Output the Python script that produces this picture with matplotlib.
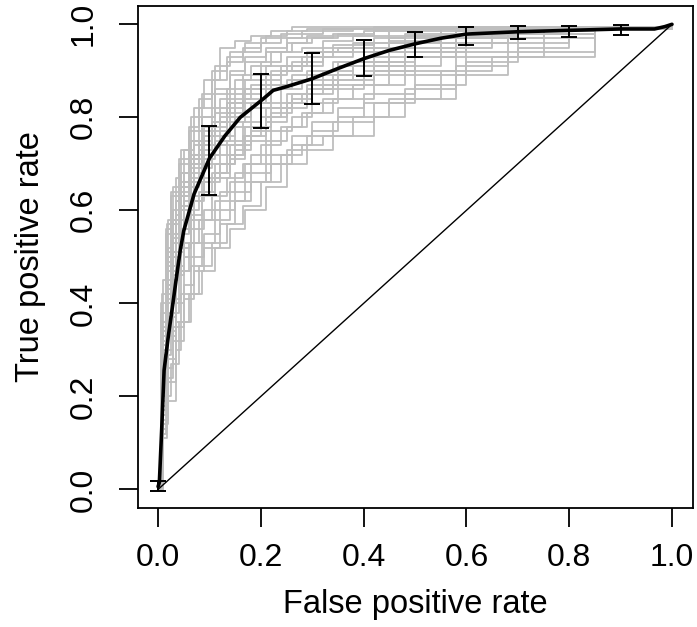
import numpy as np
import matplotlib
matplotlib.use('Agg')
import matplotlib.pyplot as plt

plt.rcParams['font.family'] = ['Liberation Sans', 'DejaVu Sans']

# FPR grids used by the individual (grey) ROC curves
grid_a = [0, .01, .02, .03, .05, .07, .09, .12, .15, .18, .22, .26, .30, .35, .40, .50, .60, .70, .80, 1.0]
grid_b = [0, .005, .015, .025, .04, .06, .08, .105, .135, .165, .20, .24, .28, .32, .38, .45, .55, .65, .75, 1.0]
grid_c = [0, .008, .018, .035, .045, .065, .085, .11, .14, .17, .21, .25, .29, .34, .42, .48, .58, .68, .85, 1.0]

# TPR of each resampled ROC curve
grey_tpr = [
    [0, .45, .58, .65, .73, .82, .88, .95, .965, .975, .985, .995, .995, .995, .995, .995, .995, .995, .995, 1],
    [0, .12, .20, .27, .36, .42, .48, .53, .57, .61, .66, .72, .74, .76, .80, .84, .90, .93, .99, 1],
    [0, .30, .48, .58, .66, .72, .76, .80, .84, .87, .90, .92, .94, .95, .96, .97, .985, .99, .995, 1],
    [0, .20, .35, .45, .55, .60, .64, .68, .72, .76, .80, .83, .85, .88, .91, .94, .97, .98, .99, 1],
    [0, .35, .52, .60, .68, .74, .78, .84, .88, .91, .94, .96, .97, .98, .985, .99, .995, .995, .995, 1],
    [0, .25, .40, .50, .60, .65, .69, .72, .75, .79, .83, .86, .88, .90, .92, .95, .97, .985, .99, 1],
    [0, .18, .30, .40, .50, .56, .60, .64, .68, .72, .77, .80, .83, .86, .89, .93, .96, .98, .99, 1],
    [0, .28, .45, .55, .64, .70, .73, .77, .81, .85, .88, .90, .91, .93, .95, .965, .98, .99, .995, 1],
    [0, .15, .26, .35, .44, .50, .55, .60, .64, .68, .72, .76, .79, .82, .85, .89, .93, .96, .99, 1],
    [0, .38, .55, .63, .70, .77, .82, .88, .92, .94, .96, .97, .98, .985, .99, .99, .995, .995, .995, 1],
    [0, .22, .38, .48, .58, .63, .67, .70, .74, .78, .82, .85, .87, .89, .92, .95, .975, .985, .99, 1],
    [0, .32, .50, .58, .66, .71, .75, .79, .83, .86, .89, .91, .93, .95, .96, .975, .99, .99, .995, 1],
    [0, .24, .41, .51, .61, .66, .70, .74, .78, .82, .86, .88, .89, .91, .93, .96, .98, .99, .99, 1],
    [0, .17, .29, .38, .47, .53, .58, .63, .67, .70, .74, .78, .81, .84, .87, .91, .95, .97, .99, 1],
    [0, .27, .44, .53, .62, .68, .72, .76, .80, .83, .87, .89, .90, .92, .94, .96, .98, .99, .995, 1],
    [0, .40, .56, .64, .71, .78, .84, .90, .93, .95, .97, .98, .985, .99, .99, .995, .995, .995, .995, 1],
    [0, .21, .36, .46, .56, .62, .66, .70, .73, .77, .81, .84, .86, .88, .90, .94, .97, .98, .99, 1],
    [0, .26, .43, .54, .63, .69, .74, .78, .82, .84, .87, .90, .92, .94, .95, .97, .985, .99, .995, 1],
    [0, .14, .24, .32, .41, .47, .52, .57, .62, .66, .70, .74, .77, .80, .83, .87, .92, .95, .99, 1],
    [0, .33, .49, .57, .65, .72, .77, .82, .86, .89, .92, .94, .95, .965, .975, .985, .99, .995, .995, 1],
]

# more curves, these sit on grid_c
grey_tpr_c = [
    [0, .36, .50, .62, .68, .75, .80, .86, .90, .93, .95, .97, .975, .98, .99, .99, .995, .995, .995, 1],
    [0, .19, .33, .47, .52, .58, .63, .67, .71, .75, .79, .82, .85, .87, .90, .93, .96, .98, .99, 1],
    [0, .29, .44, .58, .63, .70, .74, .79, .83, .86, .89, .91, .93, .94, .96, .975, .985, .99, .995, 1],
    [0, .13, .23, .36, .42, .48, .53, .58, .62, .66, .70, .73, .76, .79, .83, .86, .91, .94, .99, 1],
    [0, .42, .57, .67, .73, .80, .85, .91, .94, .96, .975, .985, .99, .99, .995, .995, .995, .995, .995, 1],
    [0, .23, .37, .50, .56, .62, .66, .70, .74, .78, .82, .85, .87, .89, .92, .95, .97, .985, .99, 1],
    [0, .31, .47, .59, .65, .71, .76, .81, .85, .88, .91, .93, .94, .955, .97, .98, .99, .995, .995, 1],
    [0, .16, .28, .41, .47, .53, .58, .62, .66, .70, .75, .78, .81, .84, .87, .90, .94, .97, .99, 1],
    [0, .26, .42, .55, .61, .67, .71, .75, .79, .83, .86, .88, .90, .92, .94, .96, .98, .99, .995, 1],
    [0, .34, .51, .62, .68, .75, .80, .85, .89, .92, .94, .96, .97, .975, .985, .99, .995, .995, .995, 1],
    [0, .20, .34, .46, .53, .59, .64, .68, .72, .76, .80, .83, .86, .88, .91, .94, .97, .98, .99, 1],
    [0, .11, .19, .30, .36, .42, .47, .52, .56, .60, .65, .70, .73, .76, .80, .84, .89, .93, .99, 1],
]

# averaged ROC curve
mean_fpr = [0, .0025, .007, .0117, .02, .027, .035, .043, .05, .07, .10, .13, .16, .205, .224,
            .25, .30, .35, .40, .45, .50, .55, .60, .70, .80, .90, .966, .986, 1.0]
mean_tpr = [.006, .015, .128, .256, .33, .385, .45, .513, .556, .635, .712, .76, .80, .84, .858,
            .866, .883, .905, .926, .944, .958, .970, .979, .984, .987, .990, .990, .995, 1.0]

# error bars on the averaged curve
bar_fpr = [0, .1, .2, .3, .4, .5, .6, .7, .8, .9]
bar_low = [-.004, .634, .778, .828, .888, .929, .955, .969, .972, .978]
bar_high = [.017, .782, .894, .939, .967, .984, .994, .996, .997, .999]

fig = plt.figure(figsize=(6.97, 6.27), dpi=100)
ax = fig.add_axes([0.1973, 0.1898, 0.7963, 0.8011])

# grey curves, one per resample
for i, tpr in enumerate(grey_tpr):
    grid = grid_a if i % 2 == 0 else grid_b
    ax.plot(grid, tpr, drawstyle='steps-post', color='#bebebe', lw=1.3)
for tpr in grey_tpr_c:
    ax.plot(grid_c, tpr, drawstyle='steps-post', color='#bebebe', lw=1.3)

# chance line
ax.plot([0, 1], [0, 1], color='black', lw=1.0)

ax.plot(mean_fpr, mean_tpr, color='black', lw=2.6, solid_capstyle='round')

bar_mid = (np.array(bar_low) + np.array(bar_high)) / 2
yerr = [bar_mid - np.array(bar_low), np.array(bar_high) - bar_mid]
ax.errorbar(bar_fpr, bar_mid, yerr=yerr, fmt='none', ecolor='black',
            elinewidth=1.4, capsize=6, capthick=1.4)

ax.set_xlim(-0.04, 1.04)
ax.set_ylim(-0.04, 1.04)
ticks = [0, .2, .4, .6, .8, 1.0]
ax.set_xticks(ticks)
ax.set_yticks(ticks)
ax.set_xticklabels(['%.1f' % t for t in ticks])
ax.set_yticklabels(['%.1f' % t for t in ticks], rotation=90, va='center')
ax.tick_params(length=14, width=1.3, labelsize=23, pad=11)
ax.tick_params(axis='y', pad=14)
for sp in ax.spines.values():
    sp.set_linewidth(1.3)

ax.set_xlabel('False positive rate', fontsize=23.5, labelpad=12)
ax.set_ylabel('True positive rate', fontsize=23.5, labelpad=16)

fig.savefig('out.png', dpi=100)
